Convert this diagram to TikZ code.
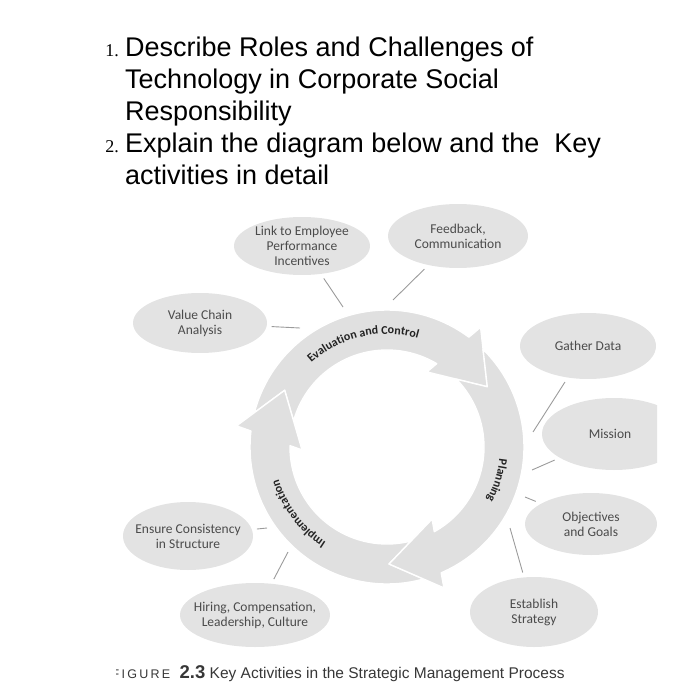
\documentclass[tikz,border=0pt]{standalone}
\usepackage{fontspec}
\setmainfont{Liberation Sans}
\newfontfamily\numfont{Liberation Serif}
\newfontfamily\gillfont{Carlito}
\newfontfamily\spacedfont[LetterSpace=18]{Liberation Sans}
\usepackage{tikz}
\usetikzlibrary{positioning,shapes.geometric,decorations.text}
\definecolor{ringgray}{RGB}{224,224,224}
\definecolor{ellgray}{RGB}{227,227,227}
\definecolor{linegray}{RGB}{155,155,155}
\definecolor{txtgray}{RGB}{75,75,75}
\definecolor{ringtxt}{RGB}{35,35,35}
\definecolor{capgray}{RGB}{55,55,55}

\begin{document}
\begin{tikzpicture}[
    x=1pt, y=1pt,
    item/.style={anchor=base west, align=left, inner sep=0pt, font=\fontsize{27}{32}\selectfont},
    num/.style={anchor=base east, inner sep=0pt, font=\numfont\fontsize{18}{18}\selectfont},
    bubble/.style={ellipse, fill=ellgray, inner sep=-8pt, outer sep=5pt, align=center,
                   text=txtgray, font=\gillfont\fontsize{13.5}{15}\selectfont},
    link/.style={draw=linegray, line width=0.9pt},
    ringarrow/.style={fill=ringgray, draw=white, line width=1.4pt, line join=round},
    ringlabel/.style={decorate, decoration={text along path, text align=center,
                   text={|\gillfont\bfseries\fontsize{12}{12}\selectfont\color{ringtxt}|#1}}},
    capword/.style={anchor=base west, inner sep=0pt, text=capgray},
]
\useasboundingbox (0,0) rectangle (699,-700);

% Questions (a multi-line node sits on its last line)
\node[num] (n1) at (119,-57) {1.};
\node[item] (q1) at (125,-121)
    {Describe Roles and Challenges of\\Technology in Corporate Social\\Responsibility};
\node[num] (n2) at (119,-153) {2.};
\node[item] (q2) at (125,-185)
    {Explain the diagram below and the~ Key\\activities in detail};

\begin{scope}
\clip (0,-195) rectangle (657,-700);

% Cycle of three arrows
\begin{scope}[shift={(387,-447)}]
\foreach \t in {31,151,271} {
    \pgfmathsetmacro{\p}{\t+120}
    \draw[ringarrow] ({\p+14.5}:137) arc[start angle=\p+14.5, end angle=\t+22.3, radius=137]
        -- ({\t+21}:152) -- (\t:117) -- ({\t+31}:85) -- ({\t+28.2}:97)
        arc[start angle=\t+28.2, end angle=\p+13.4, radius=97] -- (\p:117) -- cycle;
}
\path[ringlabel={Evaluation and Control}] (153:113) arc[start angle=153, end angle=53, radius=113];
\path[ringlabel={Planning}] (13:113) arc[start angle=13, end angle=-47, radius=113];
\path[ringlabel={Implementation}] (262:113) arc[start angle=262, end angle=172, radius=113];
\end{scope}

% Activities
\node[bubble, minimum width=136pt, minimum height=58pt] (emp) at (302,-246) {Link to Employee\\Performance\\Incentives};
\node[bubble, minimum width=140pt, minimum height=64pt] (feed) at (458,-236) {Feedback,\\Communication};
\node[bubble, minimum width=134pt, minimum height=60pt] (chain) at (200,-323) {Value Chain\\Analysis};
\node[bubble, minimum width=136pt, minimum height=66pt] (data) at (588,-346) {Gather Data};
\node[bubble, minimum width=144pt, minimum height=72pt] (mission) at (614,-434) {\hspace{-8pt}Mission};
\node[bubble, minimum width=132pt, minimum height=62pt] (goals) at (591,-524) {Objectives\\and Goals};
\node[bubble, minimum width=128pt, minimum height=70pt] (strat) at (534,-612) {Establish\\Strategy};
\node[bubble, minimum width=130pt, minimum height=68pt] (struct) at (188,-536) {Ensure Consistency\\in Structure};
\node[bubble, minimum width=132pt, minimum height=64pt] (hire) at (255,-615) {Hiring, Compensation,\\Leadership, Culture};

% Ring ends of the connectors
\coordinate (empend) at (343,-307);
\coordinate (feedend) at (393,-300);
\coordinate (chainend) at (300,-328);
\coordinate (dataend) at (533,-432);
\coordinate (missionend) at (532,-470);
\coordinate (goalsend) at (525,-497);
\coordinate (stratend) at (510,-528);
\coordinate (structend) at (267,-528);
\coordinate (hireend) at (288,-552);
\foreach \n in {emp,feed,chain,data,mission,goals,strat,struct,hire} {
    \draw[link] (\n) -- (\n end);
}
\end{scope}

% Caption
\begin{scope}
\clip (116,-650) rectangle (699,-700);
\node[capword, font=\spacedfont\fontsize{12.5}{12.5}\selectfont] (figword) at (111.5,-678) {FIGURE};
\node[capword, font=\bfseries\fontsize{18.5}{18.5}\selectfont, right=9pt of figword.base east, anchor=base west] (fignum) {2.3};
\node[capword, font=\fontsize{15.5}{15.5}\selectfont, right=4pt of fignum.base east, anchor=base west] (figtitle)
    {Key Activities in the Strategic Management Process};
\end{scope}
\end{tikzpicture}
\end{document}
